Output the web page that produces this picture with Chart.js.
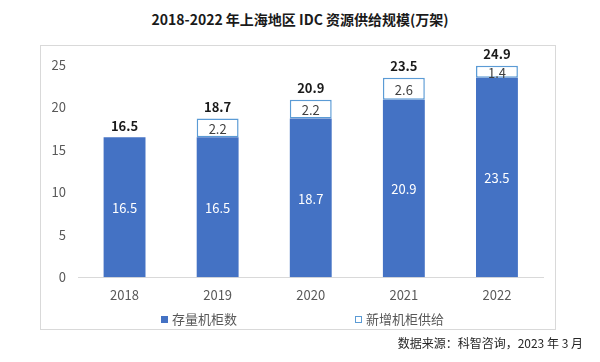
<!DOCTYPE html>
<html>
<head>
<meta charset="utf-8">
<script src="https://cdn.jsdelivr.net/npm/chart.js@4/dist/chart.umd.min.js"></script>
<style>
  html, body { margin: 0; padding: 0; background: #fff; }
  #wrap { position: relative; width: 600px; height: 362px; overflow: hidden; font-family: "Noto Sans CJK SC", "Noto Sans", sans-serif; }
  #box { position: absolute; left: 40px; top: 45px; width: 516px; height: 285px; border: 1px solid #d9d9d9; box-sizing: border-box; }
  #title { position: absolute; left: 0; width: 600px; top: 9px; text-align: center; font-size: 14px; font-weight: bold; color: #1a1a1a; line-height: 20px; }
  #source { position: absolute; right: 17px; top: 334px; font-size: 12px; color: #262626; line-height: 18px; }
  #legend { position: absolute; top: 309px; left: 0; width: 600px; height: 20px; }
  .li { position: absolute; top: 0; font-size: 13px; color: #595959; line-height: 20px; white-space: nowrap; }
  .sw { display: inline-block; width: 7px; height: 7px; box-sizing: border-box; margin-right: 4px; vertical-align: 1px; }
  canvas { position: absolute; left: 0; top: 0; }
</style>
</head>
<body>
<div id="wrap">
  <div id="box"></div>
  <div id="title">2018-2022 年上海地区 IDC 资源供给规模(万架)</div>
  <canvas id="c" width="600" height="362"></canvas>
  <div id="legend"></div>
  <div id="source">数据来源：科智咨询，2023 年 3 月</div>
</div>
<script>
const categories = ['2018', '2019', '2020', '2021', '2022'];
const existingRacks = [16.5, 16.5, 18.7, 20.9, 23.5];
const newRacks = [null, 2.2, 2.2, 2.6, 1.4];
const totals = [16.5, 18.7, 20.9, 23.5, 24.9];
const seriesNames = ['存量机柜数', '新增机柜供给'];
const yTicks = [0, 5, 10, 15, 20, 25];

const FONT = '"Noto Sans CJK SC", "Noto Sans", sans-serif';
const BLUE = '#4472C4';
const OUTLINE = '#5B9BD5';

const labelPlugin = {
  id: 'barLabels',
  afterDatasetsDraw(chart) {
    const ctx = chart.ctx;
    const yScale = chart.scales.y;
    ctx.save();
    ctx.textAlign = 'center';
    ctx.textBaseline = 'middle';
    chart.data.datasets.forEach((ds, di) => {
      const meta = chart.getDatasetMeta(di);
      meta.data.forEach((bar, i) => {
        const v = ds.data[i];
        if (v === null || v === undefined) return;
        const p = bar.getProps(['x', 'y', 'base'], true);
        ctx.font = '13px ' + FONT;
        ctx.fillStyle = di === 0 ? '#ffffff' : '#404040';
        ctx.fillText(v.toFixed(1), p.x, (p.y + p.base) / 2 + 1);
      });
    });
    const meta0 = chart.getDatasetMeta(0);
    ctx.font = 'bold 13px ' + FONT;
    ctx.fillStyle = '#1a1a1a';
    ctx.textBaseline = 'bottom';
    totals.forEach((t, i) => {
      const x = meta0.data[i].x;
      const y = yScale.getPixelForValue(t);
      ctx.fillText(t.toFixed(1), x, y - 5);
    });
    ctx.restore();
  }
};

const chart = new Chart(document.getElementById('c'), {
  type: 'bar',
  data: {
    labels: categories,
    datasets: [
      {
        label: seriesNames[0],
        data: existingRacks,
        backgroundColor: BLUE,
        borderWidth: 0,
        categoryPercentage: 1,
        barPercentage: 0.45
      },
      {
        label: seriesNames[1],
        data: newRacks,
        backgroundColor: '#ffffff',
        borderColor: OUTLINE,
        borderWidth: 1.5,
        borderSkipped: false,
        categoryPercentage: 1,
        barPercentage: 0.45
      }
    ]
  },
  options: {
    responsive: false,
    animation: false,
    devicePixelRatio: 1,
    layout: { padding: { left: 0, right: 56.5, top: 65, bottom: 50.7 } },
    plugins: {
      legend: { display: false },
      title: { display: false },
      tooltip: { enabled: false }
    },
    scales: {
      x: {
        stacked: true,
        grid: { display: false, drawTicks: false },
        border: { display: true, color: '#d9d9d9', width: 1 },
        ticks: { color: '#595959', font: { size: 13, family: FONT }, padding: 10 },
        afterFit(scale) { scale.height = 34; }
      },
      y: {
        stacked: true,
        min: 0,
        max: 25,
        grid: { display: false, drawTicks: false },
        border: { display: false },
        afterBuildTicks(scale) { scale.ticks = yTicks.map(v => ({ value: v })); },
        ticks: { color: '#595959', font: { size: 13, family: FONT }, padding: 12 },
        afterFit(scale) { scale.width = 78; }
      }
    }
  },
  plugins: [labelPlugin]
});

// HTML legend built from datasets
const legendEl = document.getElementById('legend');
const legendX = [161, 355];
chart.data.datasets.forEach((ds, i) => {
  const item = document.createElement('div');
  item.className = 'li';
  item.style.left = legendX[i] + 'px';
  const sw = document.createElement('span');
  sw.className = 'sw';
  sw.style.background = ds.backgroundColor;
  if (ds.borderWidth) sw.style.border = '1.5px solid ' + ds.borderColor;
  item.appendChild(sw);
  item.appendChild(document.createTextNode(ds.label));
  legendEl.appendChild(item);
});
</script>
</body>
</html>
